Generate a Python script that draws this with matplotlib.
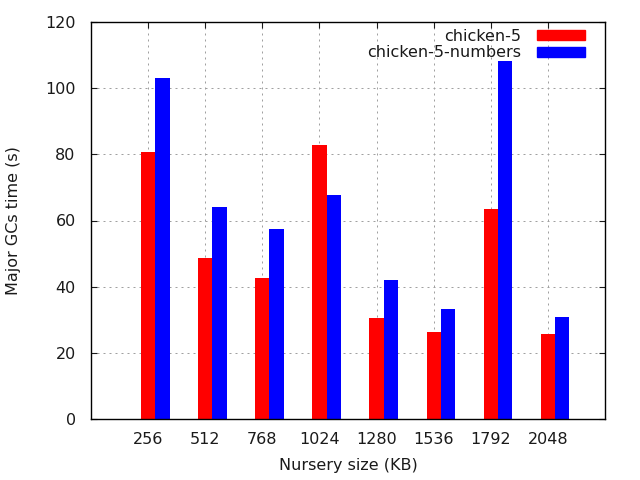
import matplotlib
matplotlib.use("Agg")
import matplotlib.pyplot as plt
from matplotlib.patches import Patch
import numpy as np

categories = ["256", "512", "768", "1024", "1280", "1536", "1792", "2048"]
chicken5 = [80.8, 48.7, 42.6, 82.8, 30.5, 26.3, 63.5, 25.7]
chicken5_numbers = [103.1, 64.1, 57.4, 67.7, 42.0, 33.3, 108.2, 30.8]
series_names = ["chicken-5", "chicken-5-numbers"]

FS = 11.5
plt.rcParams['font.family'] = ['DejaVu Sans']
fig = plt.figure(figsize=(6.4, 4.8), dpi=100)
ax = fig.add_axes([91/640, 1-419/480, (605-91)/640, (419-22)/480])

x = np.arange(len(categories))
w = 0.25
ax.bar(x, chicken5, width=w, color='#ff0000', align='center', zorder=2)
ax.bar(x + w, chicken5_numbers, width=w, color='#0000ff', align='center', zorder=2)

ax.set_xlim(-1, 8)
ax.set_ylim(0, 120)
ax.set_xticks(x)
ax.set_xticklabels(categories)
ax.set_yticks(np.arange(0, 121, 20))

ax.set_axisbelow(True)
ax.grid(True, color='#a0a0a0', linestyle=(0, (2, 4)), linewidth=0.72)
ax.tick_params(direction='in', length=4.5, width=0.8, top=True, right=True,
               labelsize=FS, colors='#1a1a1a')
ax.tick_params(axis='y', pad=11)
ax.tick_params(axis='x', pad=9)
for s in ax.spines.values():
    s.set_linewidth(1.0)

ax.set_xlabel("Nursery size (KB)", fontsize=FS, color='#1a1a1a')
ax.set_ylabel("Major GCs time (s)", fontsize=FS, color='#1a1a1a')
ax.xaxis.set_label_coords(0.5, -0.098)
ax.yaxis.set_label_coords(-0.137, 0.5)

handles = [Patch(color='#ff0000'), Patch(color='#0000ff')]
leg = ax.legend(handles, series_names, loc='upper right', frameon=False, fontsize=FS,
                markerfirst=False, handlelength=3.0, handleheight=0.56,
                handletextpad=1.0, borderaxespad=0.0, labelspacing=0.1,
                bbox_to_anchor=(1 - 14/514, 1 - 0.5/397))
for t in leg.get_texts():
    t.set_color('#1a1a1a')

fig.savefig("out.png", dpi=100)
